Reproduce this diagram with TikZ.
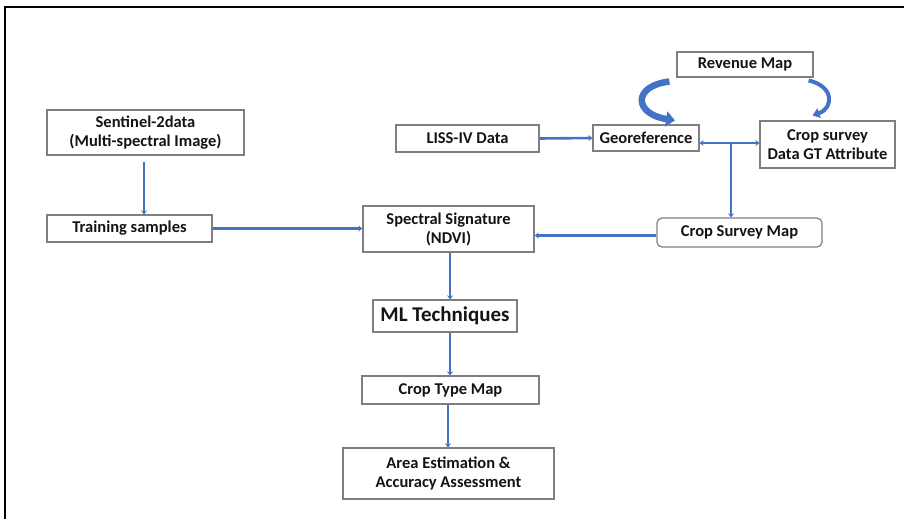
\documentclass[tikz,border=0pt]{standalone}
\usepackage{fontspec}
\setmainfont{Carlito}
\usetikzlibrary{arrows.meta,calc}
\definecolor{flowblue}{HTML}{4472C4}
\definecolor{boxgray}{HTML}{7F7F7F}
\definecolor{txt}{HTML}{141414}
\tikzset{
  box/.style={draw=boxgray, line width=1.2pt, fill=white, text=txt, font=\fontsize{16.5}{19}\selectfont\bfseries, align=center, inner sep=0pt},
  flow/.style={draw=flowblue, line width=2.6pt, -{Stealth[length=4pt,width=6pt]}},
  bigcurve/.style={draw=flowblue, line width=6.5pt, -{Triangle[width=15pt,length=9pt]}},
  smallcurve/.style={draw=flowblue, line width=4pt, -{Triangle[width=10pt,length=7pt]}},
}
\begin{document}
\begin{tikzpicture}[x=1pt,y=-1pt]
\useasboundingbox (0,0) rectangle (904,519);
\draw[line width=1.8pt] (904,7) -- (5,7) -- (5,519);

\node[box, minimum width=136pt, minimum height=25pt] (rev) at (745,64.5) {Revenue Map};
\node[box, minimum width=106pt, minimum height=26pt] (geo) at (646,138) {Georeference};
\node[box, minimum width=135pt, minimum height=47pt] (cs) at (827.5,144.5) {Crop survey\\Data GT Attribute};
\node[box, minimum width=143pt, minimum height=27pt] (liss) at (467.5,138.5) {LISS-IV Data};
\node[box, minimum width=171pt, minimum height=46pt] (spec) at (448.5,229) {Spectral Signature\\(NDVI)};
\node[box, rounded corners=5pt, minimum width=165pt, minimum height=29pt] (csm) at (739.5,232.5) {Crop Survey Map};
\node[box, minimum width=197pt, minimum height=45pt] (sent) at (145.5,132.5) {Sentinel-2data\\(Multi-spectral Image)};
\node[box, minimum width=165pt, minimum height=27pt] (train) at (129.5,228.5) {Training samples};
\node[box, minimum width=144pt, minimum height=32pt, font=\fontsize{21}{23}\selectfont\bfseries] (ml) at (445,316) {ML Techniques};
\node[box, minimum width=177pt, minimum height=28pt] (ctm) at (450.5,390) {Crop Type Map};
\node[box, minimum width=211pt, minimum height=51pt] (area) at (448.5,473.5) {Area Estimation \&\\Accuracy Assessment};

% straight connectors
\draw[flow, shorten <=6pt] (sent.south -| 144,0) -- (train.north -| 144,0);
\draw[flow] (train.east) -- (train.east -| spec.west);
\draw[flow] (liss.east) -- (geo.west);
\draw[flow] ($(csm.west)+(0,3)$) -- ($(csm.west -| spec.east)+(0,3)$);
\coordinate (j) at (731,143);
\draw[flow] (j) -- (geo.east |- j);
\draw[flow] (j) -- (cs.west |- j);
\draw[flow] (j) -- (j |- csm.north);
\draw[flow] (spec.south -| 450,0) -- (ml.north -| 450,0);
\draw[flow] (ml.south -| 450,0) -- (ctm.north -| 450,0);
\draw[flow] (ctm.south -| 448,0) -- (area.north -| 448,0);

% curved arrows from Revenue Map
\coordinate (la) at ($(rev.west)+(-7,17)$);
\coordinate (lb) at ($(geo.north)+(29,-4)$);
\draw[bigcurve] (la) .. controls (632,86) and (634,114) .. (lb);
\coordinate (ra) at ($(rev.east)+(-5,16)$);
\coordinate (rb) at ($(cs.north)+(-15,-5)$);
\draw[smallcurve] (ra) .. controls (834,86) and (834,108) .. (rb);
\end{tikzpicture}
\end{document}
